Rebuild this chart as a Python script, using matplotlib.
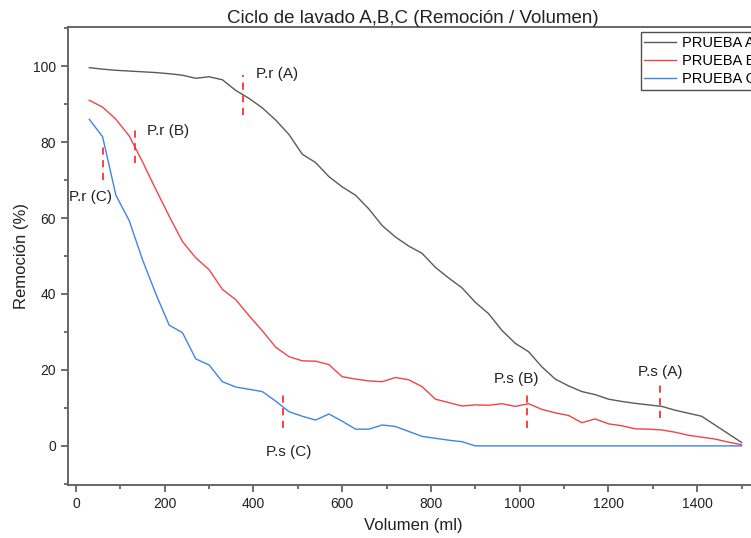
import matplotlib
matplotlib.use("Agg")
import matplotlib.pyplot as plt
from matplotlib.ticker import MultipleLocator

plt.rcParams['font.family'] = ['Liberation Sans', 'DejaVu Sans']

volumen = list(range(30, 1501, 30))

prueba_a = [99.6, 99.2, 98.9, 98.7, 98.5, 98.3, 98.0, 97.6, 96.8, 97.2,
            96.4, 93.6, 91.5, 89.0, 85.8, 82.0, 76.8, 74.6, 70.9, 68.2,
            66.0, 62.4, 58.0, 55.0, 52.6, 50.7, 47.0, 44.2, 41.6, 37.8,
            34.8, 30.4, 27.0, 24.8, 20.8, 17.6, 15.8, 14.3, 13.5, 12.3,
            11.7, 11.2, 10.8, 10.4, 9.4, 8.6, 7.8, 5.5, 3.2, 0.9]

prueba_b = [91.0, 89.2, 86.0, 81.6, 74.8, 67.5, 60.5, 53.8, 49.5, 46.4,
            41.2, 38.5, 34.3, 30.3, 26.0, 23.5, 22.4, 22.3, 21.4, 18.2,
            17.6, 17.1, 16.9, 18.0, 17.4, 15.6, 12.3, 11.4, 10.5, 10.8,
            10.7, 11.1, 10.4, 11.1, 9.6, 8.7, 8.0, 6.1, 7.1, 5.8,
            5.3, 4.5, 4.4, 4.2, 3.6, 2.8, 2.3, 1.8, 1.0, 0.3]

prueba_c = [86.0, 81.4, 66.0, 59.3, 49.0, 40.0, 31.8, 29.8, 22.9, 21.3,
            16.9, 15.5, 14.9, 14.3, 11.8, 9.0, 7.8, 6.8, 8.4, 6.5,
            4.4, 4.4, 5.5, 5.1, 3.8, 2.5, 2.0, 1.5, 1.1, 0.0,
            0.0, 0.0, 0.0, 0.0, 0.0, 0.0, 0.0, 0.0, 0.0, 0.0,
            0.0, 0.0, 0.0, 0.0, 0.0, 0.0, 0.0, 0.0, 0.0, 0.0]

series_labels = ["PRUEBA A", "PRUEBA B", "PRUEBA C"]
series_colors = ["#5a5a5a", "#f04545", "#3f84e5"]

# annotation markers: label, x position, line y-range, label position
marcas = ["P.r (A)", "P.r (B)", "P.r (C)", "P.s (C)", "P.s (B)", "P.s (A)"]
marcas_x = [376, 133, 62, 467, 1017, 1316]
marcas_y0 = [87.0, 74.5, 70.0, 4.7, 4.7, 7.4]
marcas_y1 = [97.6, 84.0, 80.0, 14.7, 14.7, 16.6]
texto_x = [406, 160, -15, 428, 942, 1267]
texto_y = [98.0, 83.0, 65.5, -1.5, 17.5, 19.5]

fig = plt.figure(figsize=(7.51, 5.38), dpi=100)
ax = fig.add_axes([68/751, (538-485)/538, (758-68)/751, (485-27)/538])

for y, lab, col in zip([prueba_a, prueba_b, prueba_c], series_labels, series_colors):
    ax.plot(volumen, y, color=col, lw=1.0, label=lab)

for lab, mx, y0, y1, tx, ty in zip(marcas, marcas_x, marcas_y0, marcas_y1, texto_x, texto_y):
    ax.plot([mx, mx], [y0, y1], color="#ff3030", lw=1.3, ls=(0, (4, 3)))
    ax.text(tx, ty, lab, fontsize=11, color="#222222", ha="left", va="center")

ax.set_xlim(-18, 1537)
ax.set_ylim(-10.3, 110.3)
ax.xaxis.set_major_locator(MultipleLocator(200))
ax.xaxis.set_minor_locator(MultipleLocator(100))
ax.yaxis.set_major_locator(MultipleLocator(20))
ax.yaxis.set_minor_locator(MultipleLocator(10))
ax.tick_params(which="major", direction="out", length=5, width=1.2, color="#555555", labelsize=10, labelcolor="#222222")
ax.tick_params(which="minor", direction="out", length=3, width=1.2, color="#555555")
for s in ax.spines.values():
    s.set_color("#666666")
    s.set_linewidth(1.4)

ax.set_xlabel("Volumen (ml)", fontsize=12, color="#222222", labelpad=5)
ax.set_ylabel("Remoción (%)", fontsize=12, color="#222222", labelpad=3)
ax.set_title("Ciclo de lavado A,B,C (Remoción / Volumen)", fontsize=13.5, color="#222222", pad=3)

leg = ax.legend(loc="upper left", bbox_to_anchor=(0.830, 0.989), fontsize=10.5,
                frameon=True, fancybox=False, handlelength=2.2, handletextpad=0.35,
                borderpad=0.25, labelspacing=0.3, borderaxespad=0)
leg.get_frame().set_edgecolor("#222222")
leg.get_frame().set_linewidth(1.0)

fig.savefig("out.png", dpi=100)
